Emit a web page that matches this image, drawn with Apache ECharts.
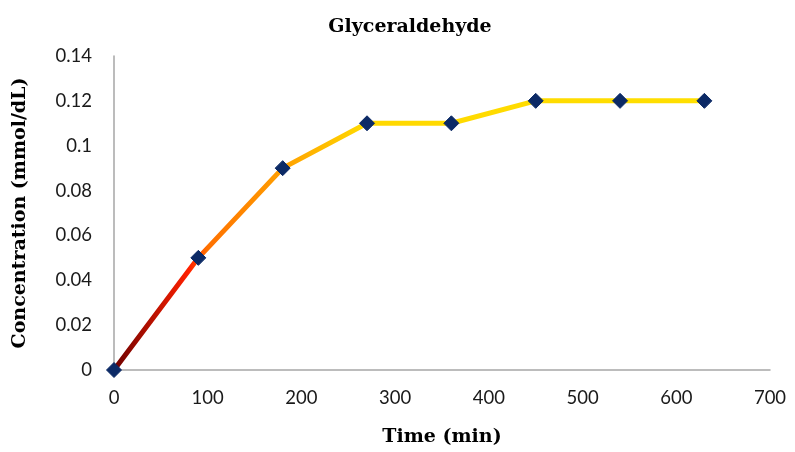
<!DOCTYPE html>
<html>
<head>
<meta charset="utf-8">
<script src="https://cdn.jsdelivr.net/npm/echarts@6/dist/echarts.min.js"></script>
<style>
  html, body { margin: 0; padding: 0; background: #fff; }
  #chart { width: 795px; height: 452px; }
</style>
</head>
<body>
<div id="chart"></div>
<script>
// Glyceraldehyde concentration over time
const timeMin = [0, 90, 180, 270, 360, 450, 540, 630];
const concentration = [0, 0.05, 0.09, 0.11, 0.11, 0.12, 0.12, 0.12];
const xTicks = [0, 100, 200, 300, 400, 500, 600, 700];
const yTicks = [0, 0.02, 0.04, 0.06, 0.08, 0.1, 0.12, 0.14];

const chart = echarts.init(document.getElementById('chart'));
const labelFont = 'Lato, "Open Sans", sans-serif';
const nameFont = '"DejaVu Serif", "Liberation Serif", serif';

chart.setOption({
  animation: false,
  title: {
    text: 'Glyceraldehyde',
    left: 405, top: 13, textAlign: 'center',
    textStyle: { fontFamily: nameFont, fontWeight: 'bold', fontSize: 19, color: '#000' }
  },
  grid: { left: 114, right: 25, top: 56, bottom: 80 },
  xAxis: {
    type: 'value', min: xTicks[0], max: xTicks[xTicks.length - 1], interval: 100,
    name: 'Time (min)', nameLocation: 'middle', nameGap: 58,
    nameTextStyle: { fontFamily: nameFont, fontWeight: 'bold', fontSize: 19, color: '#000' },
    axisLine: { lineStyle: { color: '#a6a6a6', width: 1.5 } },
    axisTick: { show: false },
    splitLine: { show: false },
    axisLabel: { fontFamily: labelFont, fontSize: 18.5, color: '#1a1a1a', margin: 19 }
  },
  yAxis: {
    type: 'value', min: yTicks[0], max: yTicks[yTicks.length - 1], interval: 0.02,
    name: 'Concentration (mmol/dL)', nameLocation: 'middle', nameGap: 84,
    nameTextStyle: { fontFamily: nameFont, fontWeight: 'bold', fontSize: 19, color: '#000' },
    axisLine: { show: true, lineStyle: { color: '#a6a6a6', width: 1.5 } },
    axisTick: { show: false },
    splitLine: { show: false },
    axisLabel: {
      fontFamily: labelFont, fontSize: 18.5, color: '#1a1a1a', margin: 22,
      formatter: v => String(+v.toFixed(2))
    }
  },
  series: [{
    type: 'line',
    data: timeMin.map((t, i) => [t, concentration[i]]),
    symbol: 'diamond', symbolSize: 15,
    itemStyle: { color: '#0c2a66', borderColor: '#0c2a66' },
    lineStyle: {
      width: 5,
      color: {
        type: 'linear', x: 0, y: 0, x2: 1, y2: 0,
        colorStops: [
          { offset: 0, color: '#6a0000' },
          { offset: 0.13, color: '#ff2000' },
          { offset: 0.16, color: '#ff7000' },
          { offset: 0.29, color: '#ffa000' },
          { offset: 0.42, color: '#ffd800' },
          { offset: 1, color: '#ffdf00' }
        ]
      }
    }
  }]
});
</script>
</body>
</html>
